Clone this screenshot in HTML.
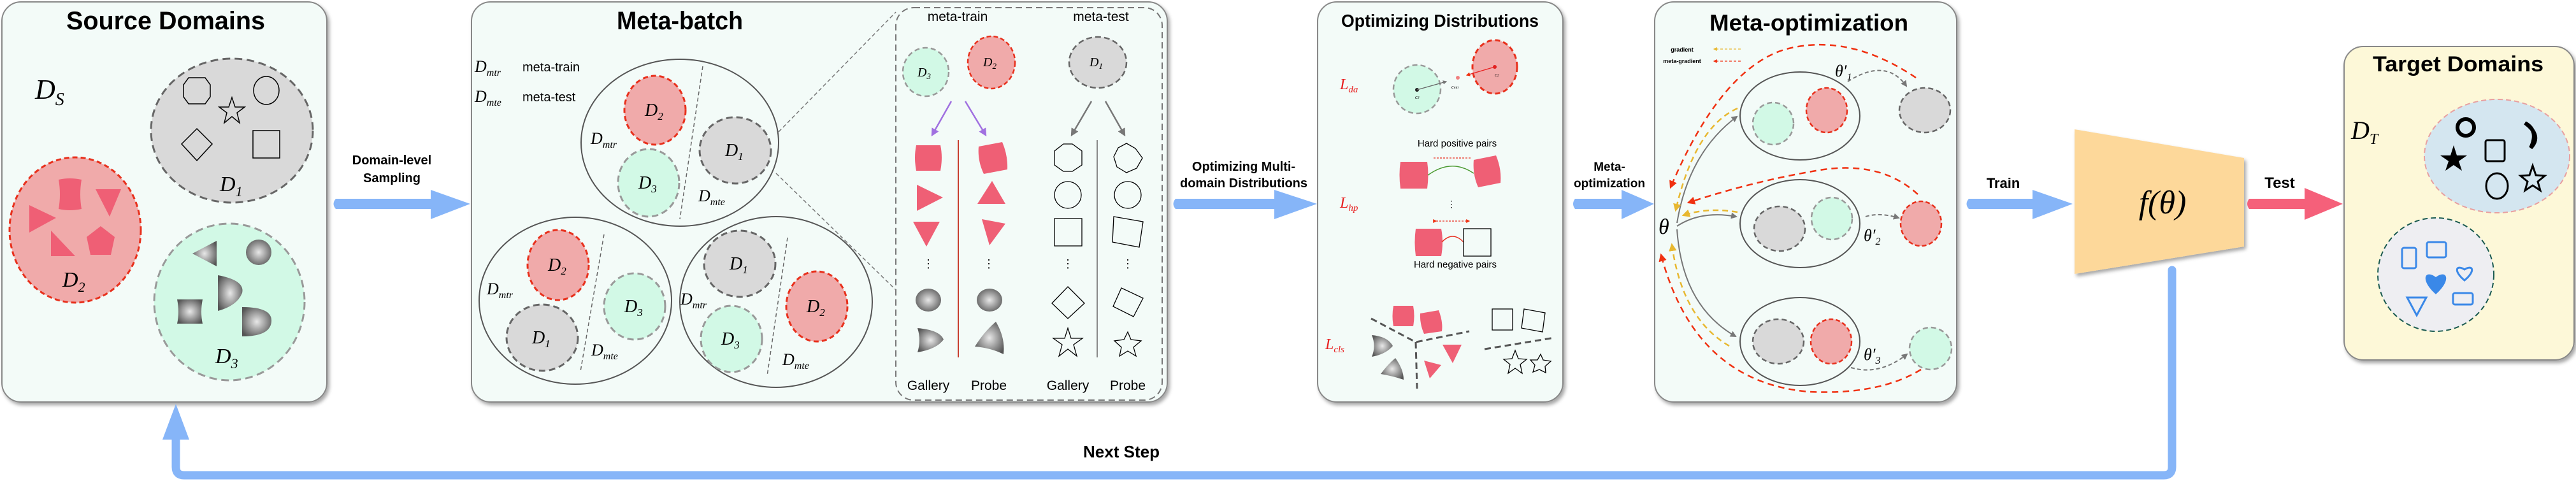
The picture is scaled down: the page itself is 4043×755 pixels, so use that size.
<!DOCTYPE html>
<html><head><meta charset="utf-8"><style>
html,body{margin:0;padding:0;background:#fff;}
svg{display:block;}
.t{font-family:"Liberation Sans",sans-serif;font-weight:bold;fill:#000;}
.s{font-family:"Liberation Sans",sans-serif;fill:#000;}
.m{font-family:"Liberation Serif",serif;font-style:italic;fill:#000;}
</style></head><body>
<svg width="4043" height="755" viewBox="0 0 4043 755" xmlns="http://www.w3.org/2000/svg">
<defs>
<filter id="sh" x="-5%" y="-5%" width="110%" height="110%"><feDropShadow dx="3" dy="4" stdDeviation="3" flood-color="#000" flood-opacity="0.35"/></filter>
<radialGradient id="gg" cx="50%" cy="50%" r="60%"><stop offset="0" stop-color="#e8e8e8"/><stop offset="1" stop-color="#555"/></radialGradient>
<marker id="ag" viewBox="0 0 10 10" refX="8" refY="5" markerWidth="5" markerHeight="5" orient="auto"><path d="M0,0L10,5L0,10z" fill="#777"/></marker>
<marker id="ap" viewBox="0 0 10 10" refX="8" refY="5" markerWidth="5" markerHeight="5" orient="auto"><path d="M0,0L10,5L0,10z" fill="#a070e0"/></marker>
<marker id="ar" viewBox="0 0 10 10" refX="8" refY="5" markerWidth="5" markerHeight="5" orient="auto"><path d="M0,0L10,5L0,10z" fill="#f03010"/></marker>
<marker id="ay" viewBox="0 0 10 10" refX="8" refY="5" markerWidth="5" markerHeight="5" orient="auto"><path d="M0,0L10,5L0,10z" fill="#e8b830"/></marker>
</defs>

<!-- Panels -->
<rect x="3" y="3" width="510" height="628" rx="30" fill="#f3fbf8" stroke="#888" stroke-width="2" filter="url(#sh)"/>
<rect x="740" y="3" width="1092" height="628" rx="30" fill="#f3fbf8" stroke="#888" stroke-width="2" filter="url(#sh)"/>
<rect x="2068" y="3" width="385" height="628" rx="30" fill="#f3fbf8" stroke="#888" stroke-width="2" filter="url(#sh)"/>
<rect x="2597" y="3" width="474" height="628" rx="30" fill="#f3fbf8" stroke="#888" stroke-width="2" filter="url(#sh)"/>
<rect x="3679" y="73" width="361" height="492" rx="30" fill="#fdf8d8" stroke="#888" stroke-width="2" filter="url(#sh)"/>

<!-- Titles -->
<text class="t" x="260" y="46" font-size="40" text-anchor="middle" textLength="312" lengthAdjust="spacingAndGlyphs">Source Domains</text>
<text class="t" x="1067" y="46" font-size="40" text-anchor="middle" textLength="198" lengthAdjust="spacingAndGlyphs">Meta-batch</text>
<text class="t" x="2260" y="42" font-size="28" text-anchor="middle" textLength="310" lengthAdjust="spacingAndGlyphs">Optimizing Distributions</text>
<text class="t" x="2839" y="48" font-size="36" text-anchor="middle" textLength="312" lengthAdjust="spacingAndGlyphs">Meta-optimization</text>
<text class="t" x="3858" y="112" font-size="34" text-anchor="middle" textLength="268" lengthAdjust="spacingAndGlyphs">Target Domains</text>

<!-- Source Domains -->
<text class="m" x="55" y="155" font-size="44">D<tspan font-size="28" dy="10">S</tspan></text>
<ellipse cx="364" cy="205" rx="127" ry="113" fill="#d9d9d9" stroke="#666" stroke-width="3" stroke-dasharray="12,7"/>
<polygon points="296,122 322,122 330,133 330,152 322,163 296,163 288,152 288,133" fill="none" stroke="#000" stroke-width="1.5"/>
<ellipse cx="418" cy="142" rx="20" ry="22" fill="none" stroke="#000" stroke-width="1.5"/>
<polygon points="364,153 369,168 384,168 372,177 376,193 364,183 352,193 356,177 344,168 359,168" fill="none" stroke="#000" stroke-width="1.5"/>
<polygon points="309,202 333,226 309,252 285,226" fill="none" stroke="#000" stroke-width="1.5"/>
<rect x="397" y="205" width="42" height="43" fill="none" stroke="#000" stroke-width="1.5"/>
<text class="m" x="345" y="300" font-size="34">D<tspan font-size="22" dy="8">1</tspan></text>

<ellipse cx="118" cy="361" rx="103" ry="114" fill="#f0aaaa" stroke="#e8301c" stroke-width="3" stroke-dasharray="8,5"/>
<path d="M92,282 Q109,278 128,282 Q124,305 128,328 Q109,332 92,328 Q96,305 92,282z" fill="#ef5f75"/>
<polygon points="150,297 190,297 172,340" fill="#ef5f75"/>
<polygon points="46,322 88,342 46,365" fill="#ef5f75"/>
<polygon points="80,362 118,402 80,402" fill="#ef5f75"/>
<polygon points="158,355 180,372 174,400 142,400 136,372" fill="#ef5f75"/>
<text class="m" x="98" y="450" font-size="34">D<tspan font-size="22" dy="8">2</tspan></text>

<ellipse cx="360" cy="474" rx="118" ry="123" fill="#d2f9e6" stroke="#999" stroke-width="3" stroke-dasharray="12,7"/>
<polygon points="340,378 340,418 302,398" fill="url(#gg)"/>
<circle cx="406" cy="396" r="20" fill="url(#gg)"/>
<path d="M342,432 Q385,440 380,460 Q372,480 342,488z" fill="url(#gg)"/>
<path d="M278,470 L318,470 Q314,490 318,508 L278,508 Q282,490 278,470z" fill="url(#gg)"/>
<path d="M380,482 Q428,482 426,505 Q424,528 380,528z" fill="url(#gg)"/>
<text class="m" x="338" y="570" font-size="34">D<tspan font-size="22" dy="8">3</tspan></text>

<!-- Domain-level Sampling arrow -->
<text class="t" x="615" y="258" font-size="20" text-anchor="middle">Domain-level</text>
<text class="t" x="615" y="286" font-size="20" text-anchor="middle">Sampling</text>
<path d="M527,312 L676,312 L676,298 L738,320 L676,344 L676,328 L527,328 Q520,320 527,312z" fill="#86b5f8"/>

<!-- Meta-batch left -->
<text class="m" x="745" y="113" font-size="26">D<tspan font-size="16" dy="6">mtr</tspan></text>
<text class="s" x="820" y="112" font-size="20">meta-train</text>
<text class="m" x="745" y="160" font-size="26">D<tspan font-size="16" dy="6">mte</tspan></text>
<text class="s" x="820" y="159" font-size="20">meta-test</text>

<ellipse cx="1067" cy="224" rx="155" ry="131" fill="none" stroke="#555" stroke-width="2"/>
<line x1="1103" y1="104" x2="1067" y2="344" stroke="#666" stroke-width="1.5" stroke-dasharray="6,4"/>
<ellipse cx="1028" cy="173" rx="48" ry="54" fill="#f0aaaa" stroke="#e8301c" stroke-width="3" stroke-dasharray="8,5"/>
<ellipse cx="1154" cy="236" rx="56" ry="52" fill="#d9d9d9" stroke="#666" stroke-width="3" stroke-dasharray="10,6"/>
<ellipse cx="1018" cy="287" rx="48" ry="53" fill="#d2f9e6" stroke="#999" stroke-width="3" stroke-dasharray="10,6"/>
<text class="m" x="1012" y="182" font-size="28">D<tspan font-size="17" dy="6">2</tspan></text>
<text class="m" x="1138" y="245" font-size="28">D<tspan font-size="17" dy="6">1</tspan></text>
<text class="m" x="1002" y="296" font-size="28">D<tspan font-size="17" dy="6">3</tspan></text>
<text class="m" x="927" y="226" font-size="26">D<tspan font-size="16" dy="6">mtr</tspan></text>
<text class="m" x="1096" y="316" font-size="26">D<tspan font-size="16" dy="6">mte</tspan></text>

<ellipse cx="903" cy="472" rx="151" ry="131" fill="none" stroke="#555" stroke-width="2"/>
<line x1="948" y1="368" x2="911" y2="583" stroke="#666" stroke-width="1.5" stroke-dasharray="6,4"/>
<ellipse cx="876" cy="416" rx="48" ry="55" fill="#f0aaaa" stroke="#e8301c" stroke-width="3" stroke-dasharray="8,5"/>
<ellipse cx="996" cy="481" rx="48" ry="52" fill="#d2f9e6" stroke="#999" stroke-width="3" stroke-dasharray="10,6"/>
<ellipse cx="851" cy="530" rx="56" ry="52" fill="#d9d9d9" stroke="#666" stroke-width="3" stroke-dasharray="10,6"/>
<text class="m" x="860" y="425" font-size="28">D<tspan font-size="17" dy="6">2</tspan></text>
<text class="m" x="980" y="490" font-size="28">D<tspan font-size="17" dy="6">3</tspan></text>
<text class="m" x="835" y="539" font-size="28">D<tspan font-size="17" dy="6">1</tspan></text>
<text class="m" x="764" y="462" font-size="26">D<tspan font-size="16" dy="6">mtr</tspan></text>
<text class="m" x="928" y="558" font-size="26">D<tspan font-size="16" dy="6">mte</tspan></text>

<ellipse cx="1218" cy="474" rx="151" ry="134" fill="none" stroke="#555" stroke-width="2"/>
<line x1="1236" y1="373" x2="1204" y2="590" stroke="#666" stroke-width="1.5" stroke-dasharray="6,4"/>
<ellipse cx="1161" cy="414" rx="56" ry="52" fill="#d9d9d9" stroke="#666" stroke-width="3" stroke-dasharray="10,6"/>
<ellipse cx="1148" cy="532" rx="48" ry="52" fill="#d2f9e6" stroke="#999" stroke-width="3" stroke-dasharray="10,6"/>
<ellipse cx="1282" cy="481" rx="48" ry="55" fill="#f0aaaa" stroke="#e8301c" stroke-width="3" stroke-dasharray="8,5"/>
<text class="m" x="1145" y="423" font-size="28">D<tspan font-size="17" dy="6">1</tspan></text>
<text class="m" x="1132" y="541" font-size="28">D<tspan font-size="17" dy="6">3</tspan></text>
<text class="m" x="1266" y="490" font-size="28">D<tspan font-size="17" dy="6">2</tspan></text>
<text class="m" x="1068" y="478" font-size="26">D<tspan font-size="16" dy="6">mtr</tspan></text>
<text class="m" x="1228" y="573" font-size="26">D<tspan font-size="16" dy="6">mte</tspan></text>

<line x1="1222" y1="207" x2="1406" y2="19" stroke="#777" stroke-width="1.5" stroke-dasharray="6,4"/>
<line x1="1218" y1="272" x2="1406" y2="455" stroke="#777" stroke-width="1.5" stroke-dasharray="6,4"/>

<!-- Meta-batch inner dashed box -->
<rect x="1406" y="12" width="418" height="616" rx="28" fill="none" stroke="#777" stroke-width="2" stroke-dasharray="10,6"/>
<text class="s" x="1503" y="33" font-size="21" text-anchor="middle">meta-train</text>
<text class="s" x="1728" y="33" font-size="21" text-anchor="middle">meta-test</text>
<ellipse cx="1453" cy="113" rx="36" ry="38" fill="#d2f9e6" stroke="#999" stroke-width="2.5" stroke-dasharray="8,5"/>
<ellipse cx="1556" cy="98" rx="37" ry="41" fill="#f0aaaa" stroke="#e8301c" stroke-width="2.5" stroke-dasharray="7,4"/>
<ellipse cx="1723" cy="98" rx="45" ry="40" fill="#d9d9d9" stroke="#666" stroke-width="2.5" stroke-dasharray="9,5"/>
<text class="m" x="1440" y="120" font-size="20">D<tspan font-size="13" dy="4">3</tspan></text>
<text class="m" x="1543" y="104" font-size="20">D<tspan font-size="13" dy="4">2</tspan></text>
<text class="m" x="1710" y="104" font-size="20">D<tspan font-size="13" dy="4">1</tspan></text>
<line x1="1493" y1="159" x2="1463" y2="212" stroke="#a070e0" stroke-width="2.5" marker-end="url(#ap)"/>
<line x1="1515" y1="159" x2="1547" y2="212" stroke="#a070e0" stroke-width="2.5" marker-end="url(#ap)"/>
<line x1="1713" y1="159" x2="1682" y2="212" stroke="#777" stroke-width="2.5" marker-end="url(#ag)"/>
<line x1="1735" y1="159" x2="1765" y2="212" stroke="#777" stroke-width="2.5" marker-end="url(#ag)"/>
<line x1="1504" y1="220" x2="1504" y2="561" stroke="#c84030" stroke-width="2"/>
<line x1="1722" y1="220" x2="1722" y2="561" stroke="#888" stroke-width="2"/>
<!-- gallery/probe columns -->
<path d="M1438,228 L1476,228 Q1480,247 1476,268 L1438,268 Q1434,247 1438,228z" fill="#ef5f75"/>
<path d="M1536,230 L1573,223 Q1582,244 1581,266 L1544,273 Q1534,252 1536,230z" fill="#ef5f75"/>
<polygon points="1439,290 1480,310 1439,331" fill="#ef5f75"/>
<polygon points="1557,284 1578,320 1534,320" fill="#ef5f75"/>
<polygon points="1433,348 1475,348 1454,387" fill="#ef5f75"/>
<polygon points="1541,344 1578,351 1553,385" fill="#ef5f75"/>
<text class="s" x="1457" y="420" font-size="18" text-anchor="middle">⋮</text>
<text class="s" x="1552" y="420" font-size="18" text-anchor="middle">⋮</text>
<text class="s" x="1676" y="420" font-size="18" text-anchor="middle">⋮</text>
<text class="s" x="1770" y="420" font-size="18" text-anchor="middle">⋮</text>
<ellipse cx="1457" cy="471" rx="20" ry="18" fill="url(#gg)"/>
<ellipse cx="1553" cy="471" rx="20" ry="18" fill="url(#gg)"/>
<path d="M1440,515 Q1475,518 1481,533 Q1470,548 1440,553 Q1446,534 1440,515z" fill="url(#gg)"/>
<path d="M1563,505 Q1578,530 1575,556 Q1555,546 1530,544 Q1545,520 1563,505z" fill="url(#gg)"/>
<polygon points="1669,226 1683,226 1698,237 1698,259 1683,269 1669,269 1655,259 1655,237" fill="none" stroke="#000" stroke-width="1.3"/>
<polygon points="1768,225 1782,233 1793,248 1784,264 1768,271 1753,262 1748,246 1755,232" fill="none" stroke="#000" stroke-width="1.3"/>
<ellipse cx="1676" cy="306" rx="21" ry="21" fill="none" stroke="#000" stroke-width="1.3"/>
<ellipse cx="1770" cy="306" rx="21" ry="21" fill="none" stroke="#000" stroke-width="1.3"/>
<rect x="1655" y="343" width="43" height="43" fill="none" stroke="#000" stroke-width="1.3"/>
<polygon points="1748,340 1794,348 1788,388 1746,380" fill="none" stroke="#000" stroke-width="1.3"/>
<polygon points="1676,450 1702,476 1676,500 1651,476" fill="none" stroke="#000" stroke-width="1.3"/>
<polygon points="1760,452 1794,468 1779,497 1747,481" fill="none" stroke="#000" stroke-width="1.3"/>
<polygon points="1676,515 1681,531 1699,531 1685,541 1690,559 1676,548 1662,559 1667,541 1653,531 1671,531" fill="none" stroke="#000" stroke-width="1.3"/>
<polygon points="1770,521 1775,533 1791,535 1779,545 1783,559 1770,551 1757,559 1760,545 1749,535 1764,533" fill="none" stroke="#000" stroke-width="1.3"/>
<text class="s" x="1457" y="612" font-size="21" text-anchor="middle">Gallery</text>
<text class="s" x="1552" y="612" font-size="21" text-anchor="middle">Probe</text>
<text class="s" x="1676" y="612" font-size="21" text-anchor="middle">Gallery</text>
<text class="s" x="1770" y="612" font-size="21" text-anchor="middle">Probe</text>

<!-- Optimizing Multi-domain arrow -->
<text class="t" x="1952" y="268" font-size="20" text-anchor="middle">Optimizing Multi-</text>
<text class="t" x="1952" y="294" font-size="20" text-anchor="middle">domain Distributions</text>
<path d="M1845,312 L2000,312 L2000,298 L2067,320 L2000,344 L2000,328 L1845,328 Q1838,320 1845,312z" fill="#86b5f8"/>

<!-- Optimizing Distributions content -->
<text class="m" x="2103" y="140" font-size="24" fill="#e82020" style="fill:#e82020">L<tspan font-size="15" dy="5">da</tspan></text>
<ellipse cx="2224" cy="140" rx="37" ry="38" fill="#d2f9e6" stroke="#999" stroke-width="2.5" stroke-dasharray="8,5"/>
<ellipse cx="2346" cy="105" rx="35" ry="42" fill="#f0aaaa" stroke="#e8301c" stroke-width="3" stroke-dasharray="8,5"/>
<circle cx="2224" cy="141" r="3" fill="#222"/>
<circle cx="2346" cy="105" r="3" fill="#e02020"/>
<circle cx="2288" cy="122" r="3" fill="#f08080"/>
<line x1="2224" y1="141" x2="2270" y2="128" stroke="#666" stroke-width="1.3" marker-end="url(#ag)"/>
<line x1="2346" y1="105" x2="2302" y2="118" stroke="#e82020" stroke-width="1.3" marker-end="url(#ar)"/>
<text class="m" x="2221" y="155" font-size="8">c<tspan font-size="6">3</tspan></text>
<text class="m" x="2346" y="120" font-size="8">c<tspan font-size="6">2</tspan></text>
<text class="m" x="2278" y="139" font-size="8">c<tspan font-size="6">mtr</tspan></text>
<text class="s" x="2287" y="230" font-size="15" text-anchor="middle">Hard positive pairs</text>
<line x1="2250" y1="248" x2="2310" y2="248" stroke="#e83020" stroke-width="1.2" stroke-dasharray="3,2"/>
<path d="M2198,254 L2240,254 Q2243,274 2240,296 L2198,296 Q2195,274 2198,254z" fill="#ef5f75"/>
<path d="M2313,251 L2348,244 Q2357,266 2355,287 L2320,294 Q2311,274 2313,251z" fill="#ef5f75"/>
<path d="M2241,275 Q2278,248 2313,272" fill="none" stroke="#4a9a30" stroke-width="1.5"/>
<text class="s" x="2278" y="325" font-size="14" text-anchor="middle">⋮</text>
<text class="m" x="2103" y="326" font-size="24" style="fill:#e82020">L<tspan font-size="15" dy="5">hp</tspan></text>
<line x1="2254" y1="347" x2="2306" y2="347" stroke="#e83020" stroke-width="1.2" stroke-dasharray="3,2" marker-start="url(#ar)" marker-end="url(#ar)"/>
<path d="M2222,359 L2262,359 Q2266,380 2262,402 L2222,402 Q2219,380 2222,359z" fill="#ef5f75"/>
<path d="M2263,380 Q2280,362 2297,380" fill="none" stroke="#e83020" stroke-width="1.5"/>
<rect x="2297" y="359" width="43" height="43" fill="none" stroke="#000" stroke-width="1.3"/>
<text class="s" x="2284" y="420" font-size="15" text-anchor="middle">Hard negative pairs</text>
<text class="m" x="2080" y="548" font-size="24" style="fill:#e82020">L<tspan font-size="15" dy="5">cls</tspan></text>
<path d="M2152,500 L2222,537 L2306,520 M2222,537 L2224,610 M2330,548 L2440,530" fill="none" stroke="#555" stroke-width="3" stroke-dasharray="10,6"/>
<path d="M2187,480 L2218,480 Q2221,496 2218,512 L2187,512 Q2184,496 2187,480z" fill="#ef5f75"/>
<path d="M2229,492 L2258,487 Q2265,505 2263,520 L2235,524 Q2228,508 2229,492z" fill="#ef5f75"/>
<path d="M2153,526 Q2178,528 2186,543 Q2175,556 2153,560 Q2160,543 2153,526z" fill="url(#gg)"/>
<path d="M2190,562 Q2203,580 2203,596 Q2185,590 2167,587 Q2178,572 2190,562z" fill="url(#gg)"/>
<polygon points="2264,541 2294,541 2280,570" fill="#ef5f75"/>
<polygon points="2235,566 2262,573 2244,594" fill="#ef5f75"/>
<rect x="2342" y="485" width="32" height="33" fill="none" stroke="#000" stroke-width="1.3"/>
<polygon points="2392,485 2425,491 2421,521 2388,515" fill="none" stroke="#000" stroke-width="1.3"/>
<polygon points="2378,550 2383,563 2396,564 2386,572 2389,586 2378,578 2367,586 2370,572 2360,564 2373,563" fill="none" stroke="#000" stroke-width="1.3"/>
<polygon points="2418,556 2422,565 2434,567 2425,575 2426,585 2416,580 2406,584 2409,573 2402,565 2413,565" fill="none" stroke="#000" stroke-width="1.3"/>

<!-- Meta-optimization arrow -->
<text class="t" x="2526" y="268" font-size="19" text-anchor="middle">Meta-</text>
<text class="t" x="2526" y="294" font-size="19" text-anchor="middle">optimization</text>
<path d="M2472,312 L2545,312 L2545,298 L2596,320 L2545,344 L2545,328 L2472,328 Q2466,320 2472,312z" fill="#86b5f8"/>

<!-- Meta-optimization content -->
<text class="t" x="2640" y="81" font-size="9" text-anchor="middle">gradient</text>
<text class="t" x="2640" y="99" font-size="9" text-anchor="middle">meta-gradient</text>
<line x1="2732" y1="77" x2="2690" y2="77" stroke="#e8b830" stroke-width="1.2" stroke-dasharray="4,3" marker-end="url(#ay)"/>
<line x1="2732" y1="96" x2="2690" y2="96" stroke="#f03010" stroke-width="1.2" stroke-dasharray="4,3" marker-end="url(#ar)"/>

<ellipse cx="2825" cy="182" rx="94" ry="69" fill="none" stroke="#555" stroke-width="2"/>
<ellipse cx="2783" cy="194" rx="32" ry="33" fill="#d2f9e6" stroke="#999" stroke-width="2.5" stroke-dasharray="8,5"/>
<ellipse cx="2867" cy="173" rx="32" ry="35" fill="#f0aaaa" stroke="#e8301c" stroke-width="2.5" stroke-dasharray="7,4"/>
<ellipse cx="3021" cy="173" rx="40" ry="35" fill="#d9d9d9" stroke="#666" stroke-width="2.5" stroke-dasharray="8,5"/>

<ellipse cx="2825" cy="351" rx="94" ry="69" fill="none" stroke="#555" stroke-width="2"/>
<ellipse cx="2793" cy="359" rx="40" ry="35" fill="#d9d9d9" stroke="#666" stroke-width="2.5" stroke-dasharray="8,5"/>
<ellipse cx="2875" cy="343" rx="32" ry="33" fill="#d2f9e6" stroke="#999" stroke-width="2.5" stroke-dasharray="8,5"/>
<ellipse cx="3015" cy="351" rx="32" ry="35" fill="#f0aaaa" stroke="#e8301c" stroke-width="2.5" stroke-dasharray="7,4"/>

<ellipse cx="2825" cy="536" rx="94" ry="69" fill="none" stroke="#555" stroke-width="2"/>
<ellipse cx="2791" cy="536" rx="40" ry="35" fill="#d9d9d9" stroke="#666" stroke-width="2.5" stroke-dasharray="8,5"/>
<ellipse cx="2874" cy="536" rx="32" ry="35" fill="#f0aaaa" stroke="#e8301c" stroke-width="2.5" stroke-dasharray="7,4"/>
<ellipse cx="3030" cy="547" rx="33" ry="33" fill="#d2f9e6" stroke="#999" stroke-width="2.5" stroke-dasharray="8,5"/>

<text class="m" x="2603" y="367" font-size="34">θ</text>
<!-- grey solid arrows from theta -->
<path d="M2632,350 Q2650,240 2726,183" fill="none" stroke="#777" stroke-width="2" marker-end="url(#ag)"/>
<path d="M2632,355 Q2670,330 2725,340" fill="none" stroke="#777" stroke-width="2" marker-end="url(#ag)"/>
<path d="M2632,360 Q2640,480 2724,528" fill="none" stroke="#777" stroke-width="2" marker-end="url(#ag)"/>
<!-- theta' labels and dashed grey arrows -->
<text class="m" x="2880" y="120" font-size="26">θ′<tspan font-size="16" dy="6">1</tspan></text>
<path d="M2900,128 Q2960,90 2992,135" fill="none" stroke="#777" stroke-width="2" stroke-dasharray="6,4" marker-end="url(#ag)"/>
<text class="m" x="2925" y="378" font-size="26">θ′<tspan font-size="16" dy="6">2</tspan></text>
<path d="M2928,340 Q2950,333 2980,342" fill="none" stroke="#777" stroke-width="2" stroke-dasharray="6,4" marker-end="url(#ag)"/>
<text class="m" x="2925" y="565" font-size="26">θ′<tspan font-size="16" dy="6">3</tspan></text>
<path d="M2905,577 Q2950,590 2993,556" fill="none" stroke="#777" stroke-width="2" stroke-dasharray="6,4" marker-end="url(#ag)"/>
<!-- red meta-gradient dashed -->
<path d="M3007,122 Q2900,50 2800,78 Q2700,110 2622,294" fill="none" stroke="#f03010" stroke-width="2.5" stroke-dasharray="10,7" marker-end="url(#ar)"/>
<path d="M3010,305 Q2950,250 2850,268 Q2750,285 2650,318" fill="none" stroke="#f03010" stroke-width="2.5" stroke-dasharray="10,7" marker-end="url(#ar)"/>
<path d="M3015,580 Q2950,620 2840,615 Q2660,600 2607,400" fill="none" stroke="#f03010" stroke-width="2.5" stroke-dasharray="10,7" marker-end="url(#ar)"/>
<!-- yellow gradient dashed -->
<path d="M2727,170 Q2660,200 2630,330" fill="none" stroke="#e8b830" stroke-width="2.5" stroke-dasharray="9,6" marker-end="url(#ay)"/>
<path d="M2727,333 Q2680,325 2642,338" fill="none" stroke="#e8b830" stroke-width="2.5" stroke-dasharray="9,6" marker-end="url(#ay)"/>
<path d="M2714,543 Q2640,500 2624,384" fill="none" stroke="#e8b830" stroke-width="2.5" stroke-dasharray="9,6" marker-end="url(#ay)"/>

<!-- Train arrow -->
<text class="t" x="3144" y="295" font-size="22" text-anchor="middle">Train</text>
<path d="M3090,312 L3190,312 L3190,298 L3253,320 L3190,344 L3190,328 L3090,328 Q3083,320 3090,312z" fill="#86b5f8"/>

<!-- trapezoid -->
<polygon points="3256,203 3522,248 3522,387 3256,430" fill="#fdd89a" filter="url(#sh)"/>
<text class="m" x="3394" y="335" font-size="52" text-anchor="middle">f(θ)</text>

<!-- Test arrow -->
<text class="t" x="3578" y="295" font-size="24" text-anchor="middle">Test</text>
<path d="M3530,312 L3617,312 L3617,295 L3677,320 L3617,345 L3617,328 L3530,328 Q3524,320 3530,312z" fill="#f5607a"/>

<!-- Target Domains content -->
<text class="m" x="3690" y="218" font-size="40">D<tspan font-size="24" dy="8">T</tspan></text>
<ellipse cx="3919" cy="245" rx="114" ry="89" fill="#d4e6f0" stroke="#e8a0a0" stroke-width="2" stroke-dasharray="8,5"/>
<circle cx="3870" cy="200" r="13" fill="none" stroke="#000" stroke-width="6"/>
<path d="M3963,193 Q3985,205 3972,232 Q3990,213 3963,193z" fill="#000" stroke="#000" stroke-width="6"/>
<rect x="3901" y="220" width="30" height="33" rx="3" fill="none" stroke="#000" stroke-width="3"/>
<polygon points="3851,228 3856,244 3872,244 3859,253 3864,268 3851,259 3838,268 3843,253 3830,244 3846,244" fill="#000"/>
<ellipse cx="3919" cy="292" rx="17" ry="20" fill="none" stroke="#000" stroke-width="3"/>
<polygon points="3975,260 3980,275 3994,276 3983,285 3987,299 3975,291 3963,299 3967,285 3956,276 3970,275" fill="none" stroke="#000" stroke-width="3"/>
<ellipse cx="3823" cy="431" rx="91" ry="89" fill="#eeeef2" stroke="#1a5a50" stroke-width="2" stroke-dasharray="8,5"/>
<rect x="3770" y="389" width="22" height="32" rx="3" fill="none" stroke="#3a88e8" stroke-width="3"/>
<rect x="3809" y="380" width="30" height="24" rx="3" fill="none" stroke="#3a88e8" stroke-width="3"/>
<path d="M3868,430 C3850,415 3855,405 3868,413 C3881,405 3886,415 3868,430z" fill="none" stroke="#3a88e8" stroke-width="3" transform="translate(0,10) scale(1)"/>
<path d="M3823,462 C3798,440 3805,422 3823,435 C3841,422 3848,440 3823,462z" fill="#3a88e8"/>
<rect x="3850" y="460" width="31" height="18" rx="3" fill="none" stroke="#3a88e8" stroke-width="3"/>
<polygon points="3778,467 3808,467 3793,495" fill="none" stroke="#3a88e8" stroke-width="3"/>

<!-- Next Step feedback -->
<path d="M3409,424 L3409,733 Q3409,746 3396,746 L289,746 Q276,746 276,733 L276,680" fill="none" stroke="#86b5f8" stroke-width="13" stroke-linecap="round"/>
<polygon points="255,690 297,690 276,634" fill="#86b5f8"/>
<text class="t" x="1760" y="718" font-size="26" text-anchor="middle">Next Step</text>
</svg>
</body></html>
